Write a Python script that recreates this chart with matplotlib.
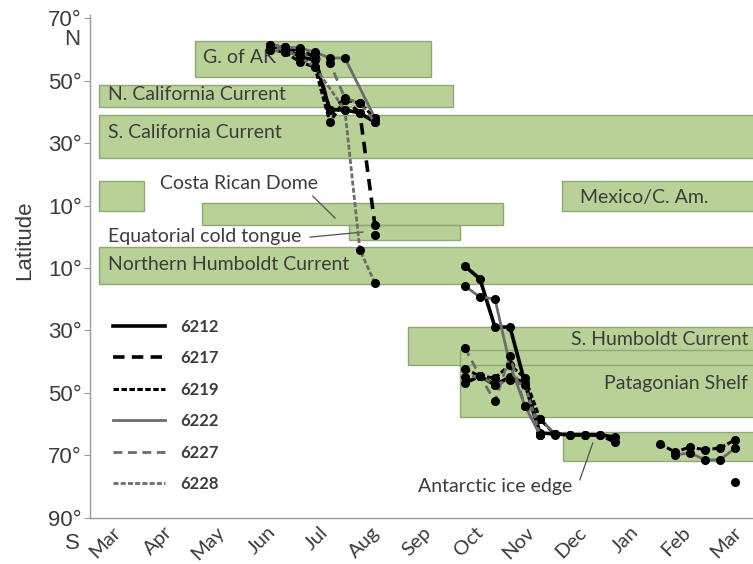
import matplotlib
matplotlib.use("Agg")
import matplotlib.pyplot as plt
import numpy as np
from matplotlib.lines import Line2D
from matplotlib.patches import Rectangle

nan = np.nan

# x axis: months since the first March (0 = Mar ... 12 = next Mar)
month_ticks = list(range(13))
month_labels = ["Mar", "Apr", "May", "Jun", "Jul", "Aug", "Sep",
                "Oct", "Nov", "Dec", "Jan", "Feb", "Mar"]

lat_ticks = [70, 50, 30, 10, -10, -30, -50, -70, -90]
lat_tick_labels = ["70°", "50°", "30°", "10°", "10°", "30°", "50°", "70°", "90°"]

# oceanographic regions (boxes): start/end month, north/south latitude
box_start = [1.60, -0.25, -0.25, -0.25, 1.74, 4.58, -0.25, 8.70, 5.72, 6.72, 8.71]
box_end = [6.16, 6.59, 12.5, 0.62, 7.56, 6.72, 12.5, 12.5, 12.5, 12.5, 12.5]
box_north = [62.6, 48.6, 39.0, 17.8, 10.8, 3.8, -3.3, 17.8, -28.9, -36.2, -62.5]
box_south = [51.1, 41.5, 25.2, 8.2, 3.8, -1.0, -15.1, 8.2, -41.0, -57.7, -71.8]

# region labels
label_text = ["G. of AK", "N. California Current", "S. California Current",
              "Costa Rican Dome", "Equatorial cold tongue",
              "Northern Humboldt Current", "Mexico/C. Am.",
              "S. Humboldt Current", "Patagonian Shelf", "Antarctic ice edge"]
label_x = [1.76, -0.08, -0.08, 0.93, -0.08, -0.08, 9.04, 12.29, 12.29, 5.91]
label_lat = [57.5, 45.4, 33.5, 16.9, 0.2, -9.0, 12.7, -33.0, -47.1, -79.8]
label_ha = ["left"] * 7 + ["right", "right", "left"]

# leader lines from a label to its box
leader_x0 = [3.88, 3.83, 9.04]
leader_lat0 = [13.0, -0.1, -77.8]
leader_x1 = [4.31, 4.85, 9.29]
leader_lat1 = [6.0, 1.5, -66.0]

# tag tracks (month, latitude); nan separates the data gaps
tag_6212_month = [3.05, 3.34, 3.63, 3.92, 4.21, 4.50, 4.79, 5.08, nan,
                  6.82, 7.11, 7.40, 7.69, 7.98, 8.27, 8.56, 8.85, 9.14, 9.43, 9.72, nan,
                  12.04]
tag_6212_lat = [60.7, 60.7, 57.5, 56.6, 40.6, 40.6, 39.6, 36.7, nan,
                -9.4, -13.5, -28.9, -28.9, -46.8, -62.8, -63.1, -63.4, -63.4, -63.4, -64.1, nan,
                -78.5]

tag_6217_month = [3.05, 3.34, 3.63, 3.92, 4.21, 4.50, 4.79, 5.08, 5.08, nan,
                  6.82, 7.11, 7.40, 7.69, 7.98, 8.27, 8.56, 8.85, 9.14, 9.43, 9.72]
tag_6217_lat = [61.4, 60.4, 59.8, 57.5, 40.6, 43.8, 39.6, 3.8, 0.6, nan,
                -46.8, -44.6, -47.4, -44.9, -46.8, -63.4, -63.1, -63.4, -63.4, -63.4, -65.7]

tag_6219_month = [3.05, 3.34, 3.63, 3.92, 4.21, 4.50, 4.79, 5.08, nan,
                  6.82, 7.11, 7.40, 7.69, 7.98, 8.27, 8.56, nan,
                  10.59, 10.88, 11.17, 11.46, 11.75, 12.04]
tag_6219_lat = [59.8, 59.1, 55.9, 54.3, 36.7, 43.8, 42.8, 38.0, nan,
                -42.3, -44.6, -45.2, -41.0, -45.2, -58.3, -63.4, nan,
                -66.3, -68.9, -67.3, -68.2, -67.6, -65.0]

tag_6222_month = [3.05, 3.34, 3.63, 3.92, 4.21, 4.50, 5.08, nan,
                  6.82, 7.11, 7.40, 7.69, 7.98, 8.27, nan,
                  10.88, 11.17, 11.46, 11.75, 12.04]
tag_6222_lat = [61.4, 60.7, 60.4, 59.1, 57.2, 57.2, 38.0, nan,
                -15.8, -19.3, -19.9, -41.0, -54.2, -63.4, nan,
                -69.8, -69.2, -71.4, -71.4, -67.6]

tag_6227_month = [3.05, 3.34, 3.63, 3.92, 4.21, 4.50, 4.79, 5.08, nan,
                  6.82, 7.11, 7.40, 7.69, 7.98, 8.27, 8.56]
tag_6227_lat = [59.8, 59.1, 58.8, 57.5, 55.6, 44.4, 42.8, 36.7, nan,
                -35.6, -44.6, -52.6, -38.2, -54.2, -58.3, -63.1]

tag_6228_month = [3.05, 3.34, 3.63, 3.92, 4.50, 4.79, 5.08, nan,
                  6.82, 7.11, 7.40, 7.69, 7.98, 8.27]
tag_6228_lat = [60.7, 59.8, 57.5, 54.3, 40.6, -4.2, -14.8, nan,
                -44.9, -44.6, -47.4, -45.8, -47.4, -63.4]

tag_names = ["6212", "6217", "6219", "6222", "6227", "6228"]
tag_months = [tag_6212_month, tag_6217_month, tag_6219_month,
              tag_6222_month, tag_6227_month, tag_6228_month]
tag_lats = [tag_6212_lat, tag_6217_lat, tag_6219_lat,
            tag_6222_lat, tag_6227_lat, tag_6228_lat]

BLACK = "black"
GRAY = "#6c6c6c"
tag_styles = [
    dict(color=BLACK, lw=2.6, dashes=()),
    dict(color=BLACK, lw=2.6, dashes=(3.2, 2.0)),
    dict(color=BLACK, lw=2.2, dashes=(1.8, 0.8)),
    dict(color=GRAY, lw=2.0, dashes=()),
    dict(color=GRAY, lw=2.0, dashes=(3.2, 2.0)),
    dict(color=GRAY, lw=2.0, dashes=(1.8, 0.8)),
]

TEXT = "#3c3c3c"
BOX_FACE = "#b8d196"
BOX_EDGE = "#8fa876"

fig = plt.figure(figsize=(7.53, 5.64), dpi=100)
ax = fig.add_axes([0.1195, 0.0816, 0.8805, 0.892])
ax.set_xlim(-0.425, 12.386)
ax.set_ylim(-90, 71)

# region boxes
for x0, x1, n, s in zip(box_start, box_end, box_north, box_south):
    ax.add_patch(Rectangle((x0, s), x1 - x0, n - s, facecolor=BOX_FACE,
                           edgecolor="none", zorder=1))
for x0, x1, n, s in zip(box_start, box_end, box_north, box_south):
    ax.add_patch(Rectangle((x0, s), x1 - x0, n - s, facecolor="none",
                           edgecolor=BOX_EDGE, lw=1.0, zorder=1.5))

for t, x, y, ha in zip(label_text, label_x, label_lat, label_ha):
    ax.text(x, y, t, ha=ha, va="center", fontsize=14, family="Lato",
            color=TEXT, zorder=2)

for x0, y0, x1, y1 in zip(leader_x0, leader_lat0, leader_x1, leader_lat1):
    ax.plot([x0, x1], [y0, y1], color="#505050", lw=0.9, zorder=2)

# tracks
for m, lat, st in zip(tag_months, tag_lats, tag_styles):
    ax.plot(m, lat, color=st["color"], lw=st["lw"], dashes=st["dashes"],
            marker="o", ms=5.5, mfc="black", mec="black", zorder=3)

handles = [Line2D([], [], color=st["color"], lw=st["lw"], dashes=st["dashes"])
           for st in tag_styles]
ax.legend(handles, tag_names, loc="upper left", bbox_to_anchor=(0.035, 0.396),
          frameon=False, borderaxespad=0, borderpad=0, handlelength=3.1,
          handletextpad=0.9, labelspacing=0.93,
          prop=dict(family="Lato", weight="bold", size=12), labelcolor=TEXT)

# axes styling
for side in ("top", "right"):
    ax.spines[side].set_visible(False)
for side in ("left", "bottom"):
    ax.spines[side].set_color("#9a9a9a")
    ax.spines[side].set_linewidth(1.0)

ax.set_yticks(lat_ticks)
ax.set_yticklabels(lat_tick_labels, family="Liberation Sans", fontsize=16, color=TEXT)
ax.tick_params(axis="y", length=4, width=0.8, color="#9a9a9a", pad=2)

ax.set_xticks(month_ticks)
ax.set_xticklabels(month_labels, rotation=45, ha="right", va="top",
                   rotation_mode="anchor", family="Lato", fontsize=14.5, color=TEXT)
ax.tick_params(axis="x", length=0, pad=4)

ytf = ax.get_yaxis_transform()
ax.text(-0.015, 63, "N", transform=ytf, ha="right", va="center",
        family="Liberation Sans", fontsize=16, color=TEXT)
ax.text(-0.015, -98.3, "S", transform=ytf, ha="right", va="center",
        family="Liberation Sans", fontsize=16, color=TEXT)

fig.text(25 / 753, 1 - 240 / 564, "Latitude", rotation=90, ha="center", va="center",
         family="Liberation Sans", fontsize=16, color=TEXT)

fig.savefig("out.png", dpi=100)
